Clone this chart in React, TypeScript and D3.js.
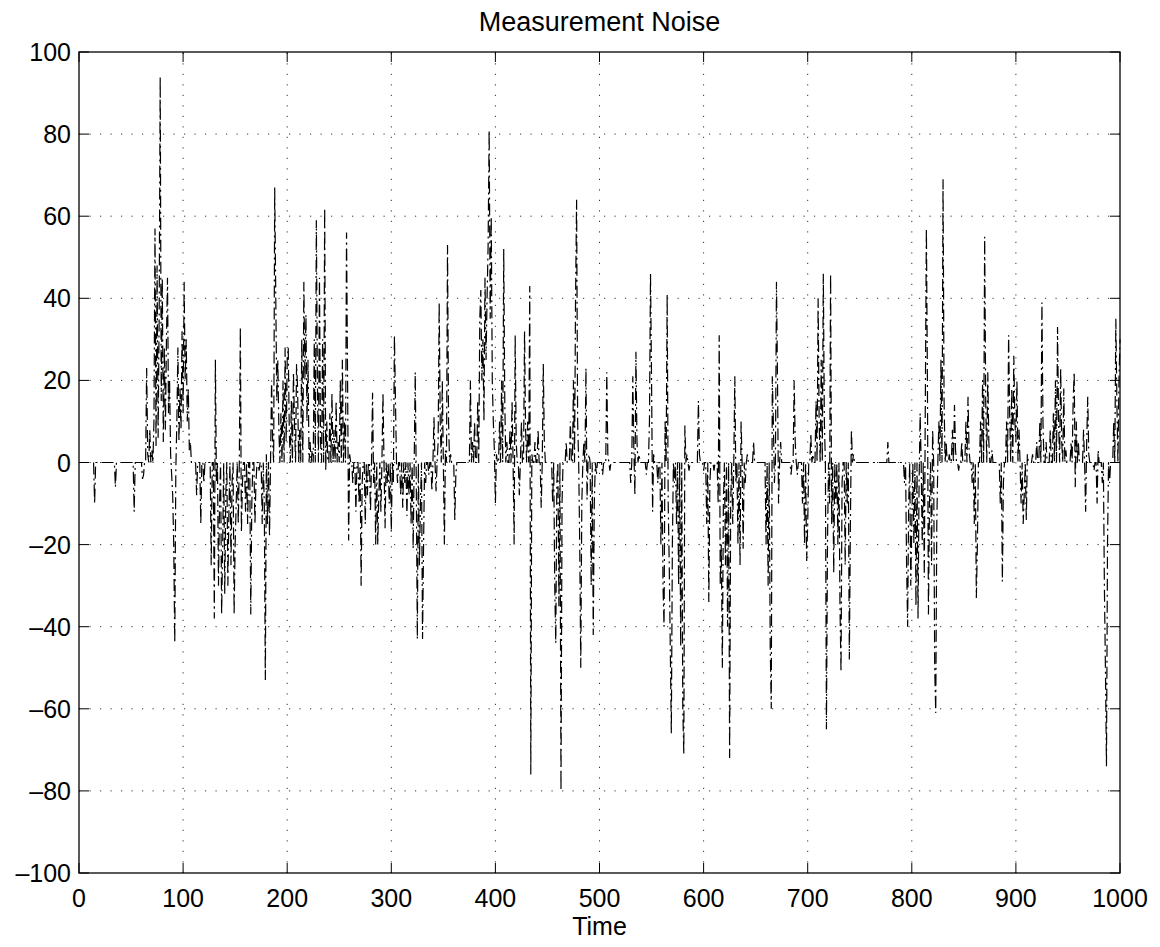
import React from "react";
import * as d3 from "d3";

const chartTitle = "Measurement Noise";
const xAxisLabel = "Time";
const xTicks = [0, 100, 200, 300, 400, 500, 600, 700, 800, 900, 1000];
const yTicks = [-100, -80, -60, -40, -20, 0, 20, 40, 60, 80, 100];
const timeStart = 14;
const timeEnd = 1000;

// Non-zero samples [time, value]; the signal sits at 0 elsewhere.
const noiseSpikes: [number, number][] = [
  [15, -10], [35, -6], [53, -12], [61, -4],
  [62, -3], [65, 23], [66, 2], [68, 8], [70, 3], [72, 10], [73, 57], [74, 4], [75, 48], [76, 6], [77, 35], [78, 94], [79, 15], [80, 45], [81, 5], [82, 28], [83, 8], [84, 30], [85, 45], [86, 12], [87, 20], [88, 2], [89, -3], [90, -8], [91, -20], [92, -44], [93, -2], [94, 10], [95, 28], [96, 5], [97, 18], [98, 8], [99, 32], [100, 12], [101, 44], [102, 20], [103, 30], [104, 10], [105, 18], [106, 3], [107, 5],
  [113, -8], [117, -15], [120, -5], [127, -25], [130, -38], [131, 25], [132, -5], [134, -30], [135, -10], [137, -37], [138, -20], [140, -32], [141, -8], [143, -30], [144, -12], [146, -25], [147, -5], [149, -37], [150, -20], [151, -10], [153, -15], [155, 33], [156, -17], [157, -5], [160, -12], [162, -15], [165, -37], [166, -10], [169, -15], [170, -5], [173, -2], [176, -15], [178, -10], [179, -53], [180, 2], [181, -15], [183, -18],
  [185, 20], [186, 5], [188, 67], [189, 41], [190, 15], [191, 25], [192, 8], [194, 12], [196, 20], [198, 28], [199, 5], [200, 25], [201, 28], [202, 8], [204, 15], [206, 22], [207, 10], [209, 24], [210, 18], [212, 8], [214, 30], [216, 44], [217, 20], [218, 36], [219, 10], [220, 25], [222, 5], [224, 3], [226, 30], [228, 59], [229, 20], [231, 45], [232, 5], [234, 30], [236, 62], [237, -2], [238, 10], [241, 12], [243, 17], [245, 8], [247, 15], [249, 5], [251, 20], [253, 25], [255, 10], [257, 56], [258, 20], [259, -19], [260, 2],
  [263, -5], [266, -12], [269, -10], [271, -30], [272, -5], [275, -15], [277, -8], [280, -12], [282, 17], [283, -5], [285, -20], [287, -20], [288, -8], [290, -12], [292, 17], [294, -16], [296, -5], [298, -10], [300, -17], [302, -5], [303, 31], [304, 15], [306, -5], [309, -8], [311, -11], [313, -5], [315, -13], [317, -8], [319, -15], [321, -21], [323, 22], [324, -5], [325, -43], [327, -25], [328, -10], [330, -43], [331, -20], [333, -5], [336, -3], [339, -7], [341, 11], [343, -7], [345, 5], [346, 39], [347, 10], [349, 20], [351, -20], [352, 3], [354, 53], [355, 10], [357, 2], [361, -14], [362, -3],
  [376, 20], [378, 5], [380, 10], [383, 15], [385, 35], [386, 42], [387, 20], [388, 30], [389, 10], [390, 45], [391, 25], [392, 40], [393, 53], [394, 81], [395, 35], [396, 60], [397, 20], [398, 10], [399, 3], [400, -10], [401, 2], [404, 10], [406, 20], [408, 52], [409, 15], [411, 5], [414, 8], [416, 15], [418, -20], [419, 31], [420, 5], [423, -8], [425, 10], [428, 32], [429, 8], [431, 10], [433, 43], [434, -76], [435, 2], [438, 5], [441, 8], [444, -11], [446, 24], [447, 5],
  [455, -10], [457, -30], [458, -44], [459, -5], [461, -35], [463, -80], [464, -10], [468, 5], [472, 10], [475, 20], [477, 40], [478, 64], [479, 10], [481, -20], [482, -50], [483, -10], [485, 5], [487, 23], [488, -9], [490, 2], [492, -30], [494, -42], [495, -10], [497, -3], [503, -3], [507, 22], [508, 2], [510, -2],
  [530, -5], [532, 21], [533, 3], [534, -8], [535, 27], [536, 5], [538, 2], [545, -3], [548, 10], [549, 46], [550, 20], [551, -12], [552, 2], [556, -5], [559, -20], [561, -30], [562, -40], [563, 10], [565, 41], [566, -10], [567, -25], [568, -45], [569, -66], [570, -20], [572, -5], [574, -15], [576, -30], [578, -45], [580, -60], [581, -71], [582, 9], [584, 2], [586, -2],
  [595, 15], [596, 2], [600, -2], [603, -15], [605, -34], [606, -5], [610, -2], [614, -10], [615, 31], [616, -30], [617, -20], [618, -50], [619, -10], [621, -25], [623, -40], [625, -72], [626, -10], [628, -15], [630, 21], [631, -5], [633, -20], [635, -25], [636, 10], [638, -21], [640, -5], [642, 2], [648, 5],
  [660, -20], [662, -30], [664, -45], [665, -60], [666, 21], [667, 10], [668, -5], [670, 44], [671, 20], [672, -10], [674, 5], [684, -3], [687, 20], [688, 5], [690, -3], [695, -10], [697, -20], [699, -24], [700, -15], [703, 7], [705, 2], [708, 15], [710, 40], [711, 10], [713, 25], [715, 46], [716, 10], [718, -65], [719, -20], [721, -10], [722, 46], [723, -15], [725, -27], [727, -10], [729, -20], [731, -35], [732, -51], [733, -5], [736, -25], [738, -10], [740, -48], [741, -15], [742, 8], [744, 2],
  [777, 5], [793, -5], [795, -25], [796, -40], [797, -10], [799, -30], [800, -15], [802, -20], [804, -35], [806, -38], [807, -5], [808, 12], [810, -20], [812, -28], [813, 15], [814, 57], [815, 20], [816, -37], [817, -10], [819, -25], [820, 8], [822, -50], [823, -61], [824, -15], [826, 10], [828, 25], [830, 69], [831, 15], [833, 5], [836, 2], [839, 8], [841, 14], [842, 3], [845, -2], [848, 5], [852, 10], [854, 16], [855, 3], [858, -5], [860, -15], [862, -33], [863, -20],
  [866, 10], [868, 20], [870, 55], [871, 15], [873, 22], [874, 5], [877, 3], [885, -10], [887, -29], [888, -5], [891, 10], [893, 31], [894, 12], [896, 18], [898, 26], [899, 10], [900, 5], [901, 20], [903, 8], [905, -10], [907, -15], [908, -8], [910, -14], [911, 2], [916, 2], [920, 5], [923, 10], [925, 39], [926, 10], [929, 5], [933, 8], [936, 12], [938, 20], [940, 33], [941, 10], [943, 23], [944, 5], [946, 18], [948, 3], [953, 5], [955, 15], [956, 22], [957, -6], [958, 10], [960, 5], [965, 8], [967, -12], [968, 5], [969, 16], [970, 2], [975, -2], [978, -10], [979, 3], [983, -5], [985, -30], [986, -50], [987, -74], [988, -20], [990, -5], [994, 10], [996, 35], [997, 15], [999, 20], [1000, 30],
];

const W = 1160;
const H = 947;
const L = 79, R = 1120, T = 52, B = 873;
const FONT = "'Liberation Sans', Arial, Helvetica, sans-serif";

export default function App() {
  const x = d3.scaleLinear().domain([0, 1000]).range([L, R]);
  const y = d3.scaleLinear().domain([-100, 100]).range([B, T]);
  const spikeMap = new Map<number, number>(noiseSpikes);
  const samples: [number, number][] = d3
    .range(timeStart, timeEnd + 1)
    .map((t) => [t, spikeMap.get(t) ?? 0]);
  const line = d3
    .line<[number, number]>()
    .x((d) => x(d[0]))
    .y((d) => y(d[1]));
  const tickLen = 10;
  const fmt = (v: number) => (v < 0 ? "\u2013" + Math.abs(v) : String(v));

  return (
    <svg
      width={W}
      height={H}
      style={{ position: "absolute", left: 0, top: 0, background: "#fff" }}
      fontFamily={FONT}
    >
      <rect x={0} y={0} width={W} height={H} fill="#fff" />
      {/* grid */}
      <g stroke="#333" strokeWidth={1} strokeDasharray="1.2,9.3">
        {xTicks.slice(1, -1).map((t) => (
          <line key={"gx" + t} x1={x(t)} x2={x(t)} y1={B} y2={T} />
        ))}
        {yTicks.slice(1, -1).map((t) => (
          <line key={"gy" + t} x1={L} x2={R} y1={y(t)} y2={y(t)} />
        ))}
      </g>
      {/* data */}
      <path
        d={line(samples) ?? ""}
        fill="none"
        stroke="#000"
        strokeWidth={1.2}
        strokeDasharray="12,4,2,4"
      />
      {/* ticks */}
      <g stroke="#000" strokeWidth={1}>
        {xTicks.map((t) => (
          <g key={"tx" + t}>
            <line x1={x(t)} x2={x(t)} y1={B} y2={B - tickLen} />
            <line x1={x(t)} x2={x(t)} y1={T} y2={T + tickLen} />
          </g>
        ))}
        {yTicks.map((t) => (
          <g key={"ty" + t}>
            <line x1={L} x2={L + tickLen} y1={y(t)} y2={y(t)} />
            <line x1={R} x2={R - tickLen} y1={y(t)} y2={y(t)} />
          </g>
        ))}
      </g>
      {/* box */}
      <rect x={L} y={T} width={R - L} height={B - T} fill="none" stroke="#000" strokeWidth={1.3} />
      {/* labels */}
      <g fontSize={25} fill="#000">
        {xTicks.map((t) => (
          <text key={"lx" + t} x={x(t)} y={907} textAnchor="middle">
            {fmt(t)}
          </text>
        ))}
        {yTicks.map((t) => (
          <text key={"ly" + t} x={71} y={y(t)} dy="0.36em" textAnchor="end">
            {fmt(t)}
          </text>
        ))}
        <text x={(L + R) / 2} y={935} textAnchor="middle">
          {xAxisLabel}
        </text>
      </g>
      <text x={(L + R) / 2} y={31} textAnchor="middle" fontSize={27} fill="#000">
        {chartTitle}
      </text>
    </svg>
  );
}
